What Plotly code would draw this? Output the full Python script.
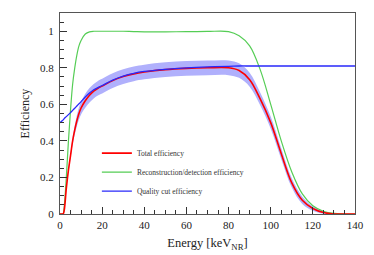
import plotly.graph_objects as go

# Energy grid (keV_NR) at which values were read
energy = [0, 1, 1.5, 2, 3, 4, 5, 6, 7, 8, 9, 10, 12, 14, 16, 18, 20, 25, 30, 35, 40, 50, 60,
          70, 80, 85, 90, 95, 100, 105, 110, 115, 120, 125, 130, 135, 140]

recon_eff = [0, 0, 0, 0.04, 0.2, 0.4, 0.57, 0.71, 0.8, 0.87, 0.92, 0.95, 0.985, 0.997, 1.0, 1.0,
             1.0, 1.0, 1.0, 0.998, 0.997, 0.997, 0.998, 0.999, 0.998, 0.975, 0.92, 0.79, 0.6,
             0.4, 0.23, 0.11, 0.045, 0.015, 0.003, 0, 0]

quality_eff = [0.5, 0.51, 0.515, 0.522, 0.533, 0.544, 0.555, 0.567, 0.579, 0.591, 0.603, 0.615,
               0.64, 0.662, 0.68, 0.692, 0.703, 0.733, 0.755, 0.77, 0.78, 0.792, 0.8, 0.805,
               0.808, 0.81, 0.81, 0.81, 0.81, 0.81, 0.81, 0.81, 0.81, 0.81, 0.81, 0.81, 0.81]

total_eff = [0, 0, 0, 0.02, 0.14, 0.24, 0.32, 0.4, 0.46, 0.51, 0.55, 0.58, 0.62, 0.65, 0.672,
             0.688, 0.7, 0.73, 0.752, 0.767, 0.777, 0.79, 0.797, 0.8, 0.8, 0.785, 0.735, 0.63,
             0.5, 0.33, 0.17, 0.075, 0.03, 0.008, 0, 0, 0]

band_err = [0, 0, 0, 0, 0.005, 0.01, 0.015, 0.02, 0.025, 0.03, 0.033, 0.035, 0.038, 0.04, 0.04,
            0.04, 0.04, 0.04, 0.04, 0.04, 0.04, 0.04, 0.04, 0.04, 0.04, 0.04, 0.038, 0.035,
            0.033, 0.03, 0.025, 0.02, 0.012, 0.006, 0, 0, 0]

labels = ["Total efficiency", "Reconstruction/detection efficiency", "Quality cut efficiency"]

upper = [t + e for t, e in zip(total_eff, band_err)]
lower = [max(t - e, 0) for t, e in zip(total_eff, band_err)]

serif = "Liberation Serif, Times New Roman, serif"

fig = go.Figure()
fig.add_trace(go.Scatter(x=energy, y=upper, mode="lines", line=dict(width=0, shape="spline"),
                         showlegend=False, hoverinfo="skip"))
fig.add_trace(go.Scatter(x=energy, y=lower, mode="lines", line=dict(width=0, shape="spline"),
                         fill="tonexty", fillcolor="rgb(176,176,252)", showlegend=False,
                         hoverinfo="skip"))
fig.add_trace(go.Scatter(x=energy, y=recon_eff, mode="lines", name=labels[1], legendrank=2,
                         line=dict(color="rgb(85,205,85)", width=1.2, shape="spline")))
fig.add_trace(go.Scatter(x=energy, y=total_eff, mode="lines", name=labels[0], legendrank=1,
                         line=dict(color="rgb(255,0,0)", width=1.6, shape="spline")))
fig.add_trace(go.Scatter(x=energy, y=quality_eff, mode="lines", name=labels[2], legendrank=3,
                         line=dict(color="rgb(40,40,250)", width=1.3, shape="spline")))

axis_common = dict(showgrid=False, zeroline=False, showline=True, mirror=True, automargin=False,
                   linecolor="#555555", linewidth=1, ticks="inside", tickcolor="#333333",
                   ticklen=7, tickwidth=1, tickfont=dict(family=serif, size=11, color="#222"))

fig.update_xaxes(range=[0, 140], tickvals=[0, 20, 40, 60, 80, 100, 120, 140],
                 minor=dict(dtick=5, ticks="inside", ticklen=4, tickcolor="#333333"),
                 ticklabelstandoff=1,
                 title=dict(text="Energy [keV<sub>NR</sub>]", font=dict(family=serif, size=12.5, color="#222"),
                            standoff=8),
                 **axis_common)
fig.update_yaxes(range=[0, 1.1], tickvals=[0, 0.2, 0.4, 0.6, 0.8, 1],
                 ticktext=["0", "0.2", "0.4", "0.6", "0.8", "1"],
                 minor=dict(dtick=0.05, ticks="inside", ticklen=4, tickcolor="#333333"),
                 ticklabelstandoff=3,
                 title=dict(text="Efficiency", font=dict(family=serif, size=12, color="#222"),
                            standoff=7),
                 **axis_common)

fig.update_layout(
    width=374, height=255,
    margin=dict(l=60, r=19, t=13, b=41),
    paper_bgcolor="white", plot_bgcolor="white",
    showlegend=True,
    legend=dict(x=0.125, y=0.375, xanchor="left", yanchor="top", bgcolor="rgba(0,0,0,0)",
                font=dict(family=serif, size=7.5, color="#333"), tracegroupgap=0,
                itemwidth=30, traceorder="normal"),
)

fig.write_html("out.html", config={"displayModeBar": False},
               post_script="document.body.style.margin='0';")
